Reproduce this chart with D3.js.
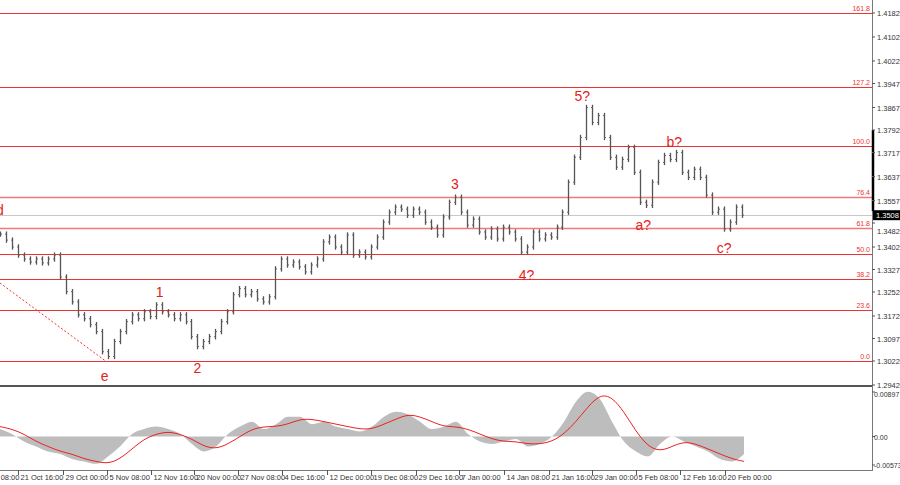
<!DOCTYPE html>
<html><head><meta charset="utf-8">
<script src="https://cdn.jsdelivr.net/npm/d3@7"></script>
<style>body{margin:0;background:#fff}svg{display:block;font-family:"Liberation Sans",Arial,sans-serif}</style>
</head><body><svg width="900" height="485"></svg>
<script>
var width = 900, height = 485;
var axisX = 872;

// closing prices, one bar every ~6px
var closes = [1.3445,1.3425,1.3402,1.3375,1.3362,1.3352,1.3362,1.3349,1.3362,1.3375,1.3302,1.3253,1.3219,1.3176,1.3163,1.3143,1.3120,1.3053,1.3037,1.3087,
  1.3120,1.3153,1.3176,1.3163,1.3186,1.3170,1.3209,1.3186,1.3176,1.3163,1.3176,1.3153,1.3103,1.3070,1.3087,1.3103,1.3120,1.3153,1.3186,1.3243,
  1.3263,1.3243,1.3253,1.3229,1.3219,1.3236,1.3329,1.3362,1.3342,1.3352,1.3336,1.3319,1.3342,1.3362,1.3419,1.3435,1.3402,1.3385,1.3442,1.3375,
  1.3385,1.3369,1.3402,1.3435,1.3485,1.3518,1.3535,1.3528,1.3508,1.3528,1.3518,1.3485,1.3468,1.3442,1.3502,1.3551,1.3568,1.3518,1.3475,1.3495,
  1.3452,1.3435,1.3462,1.3429,1.3468,1.3452,1.3429,1.3385,1.3402,1.3452,1.3429,1.3442,1.3435,1.3468,1.3518,1.3618,1.3701,1.3767,1.3867,1.3817,
  1.3840,1.3767,1.3701,1.3668,1.3694,1.3734,1.3651,1.3551,1.3541,1.3618,1.3684,1.3707,1.3694,1.3717,1.3651,1.3634,1.3661,1.3634,1.3575,1.3518,
  1.3528,1.3462,1.3485,1.3535,1.3508];

var priceTicks = [1.4182,1.4102,1.4022,1.3947,1.3867,1.3792,1.3717,1.3637,1.3557,1.3482,1.3402,1.3327,1.3252,1.3172,1.3097,1.3022,1.2942];
var fibLevels = ["161.8","127.2","100.0","76.4","61.8","50.0","38.2","23.6","0.0"];
var fibPrices = [1.4182,1.3934,1.3739,1.3570,1.3465,1.3380,1.3296,1.3191,1.3022];
var currentPrice = 1.3508;

var dateLabels = ["14 Oct 08:00","21 Oct 16:00","29 Oct 00:00","5 Nov 08:00","12 Nov 16:00","20 Nov 00:00","27 Nov 08:00","4 Dec 16:00","12 Dec 00:00",
  "19 Dec 08:00","29 Dec 16:00","7 Jan 00:00","14 Jan 08:00","21 Jan 16:00","29 Jan 00:00","5 Feb 08:00","12 Feb 16:00","20 Feb 00:00"];
var dateIdx = [-4.4,3,10.5,17.8,25.2,32.5,39.8,47.2,54.7,62,69.5,76.7,84.2,91.7,99,106.3,113.7,121.2];

var waveText = ["d","e","1","2","3","4?","5?","a?","b?","c?"];
var waveIdx = [0,17.5,26.7,33,76,88,97.3,107.5,112.7,121];
var wavePrice = [1.3509,1.2955,1.3235,1.2982,1.3595,1.3292,1.3889,1.3459,1.3735,1.3382];

var trendIdx = [0,17.5], trendPrice = [1.3282,1.3024];

// oscillator (x1000), one value every 12px
var hist = [1.5,0.5,-1,-2,-3,-3.5,-4.5,-5,-5.5,-4,-2,0.5,1.5,2,1.5,0.5,-1.5,-3,-2,0.5,2,3,1.5,2.5,4,4,2.5,3,2,1.5,1,2,4,5,4.5,3,1.5,2,3,0.5,
  -1,-1.5,-1,-0.5,-2,-1.5,0,3,7,9,7.5,3,-1,-3,-4,-1.5,0,-1,-2,-3,-4.5,-5,-3.5];
var signal = [2,1.5,0.5,-1,-2,-3,-3.5,-4.5,-5,-5.5,-4.5,-2.5,-0.5,0.5,1,0.5,-0.5,-2,-2.5,-1.5,0,1.5,2,2,2.5,3.5,3.5,3,2.5,2,1.5,1.5,2.5,3.5,4.5,4,3,2,2,1.5,
  0.5,-0.5,-1,-1,-1.5,-1.5,-1,0.5,3,6,8.5,8,5,1,-2,-3,-2,-1,-1.5,-2.5,-3.5,-4.5,-5];
var oscTicks = [0.00897,0,-0.00573];

var svg = d3.select("svg");
var x = d3.scaleLinear().domain([0, closes.length - 1]).range([0, 742]);
var y = d3.scaleLinear().domain([1.2942, 1.4182]).range([385, 13]);
var xo = d3.scaleLinear().domain([0, hist.length - 1]).range([0, 744]);
var yo = d3.scaleLinear().domain([-0.00573, 0.00897]).range([465, 392]);

// fib lines
fibPrices.forEach(function(p, i) {
  var soft = i == 3 || i == 4;
  svg.append("line").attr("x1", 0).attr("x2", axisX).attr("y1", Math.round(y(p)) + 0.5).attr("y2", Math.round(y(p)) + 0.5)
    .attr("stroke", soft ? "#f37a7a" : "#ee3333").attr("stroke-width", soft ? 1.5 : 1);
  svg.append("text").attr("x", axisX - 2).attr("y", y(p) - 2).attr("text-anchor", "end")
    .attr("font-size", 7).attr("fill", "#ee3333").text(fibLevels[i]);
});
svg.append("line").attr("x1", 0).attr("x2", axisX).attr("y1", Math.round(y(currentPrice)) + 0.5).attr("y2", Math.round(y(currentPrice)) + 0.5)
  .attr("stroke", "#c8c8c8");

svg.append("line").attr("x1", x(trendIdx[0])).attr("y1", y(trendPrice[0])).attr("x2", x(trendIdx[1])).attr("y2", y(trendPrice[1]))
  .attr("stroke", "#ee3333").attr("stroke-dasharray", "2,2");

// bars
closes.forEach(function(c, i) {
  var o = i ? closes[i - 1] : c;
  var hi = Math.max(o, c) + 0.0009, lo = Math.min(o, c) - 0.0009;
  var xx = Math.round(x(i)) + 0.5;
  svg.append("line").attr("x1", xx).attr("x2", xx).attr("y1", y(hi)).attr("y2", y(lo)).attr("stroke", "#555").attr("stroke-width", 1.3);
  svg.append("line").attr("x1", xx - 1.5).attr("x2", xx).attr("y1", y(o)).attr("y2", y(o)).attr("stroke", "#666");
  svg.append("line").attr("x1", xx).attr("x2", xx + 1.5).attr("y1", y(c)).attr("y2", y(c)).attr("stroke", "#666");
});

// wave labels
waveText.forEach(function(t, i) {
  svg.append("text").attr("x", x(waveIdx[i])).attr("y", y(wavePrice[i])).attr("text-anchor", "middle")
    .attr("font-size", 14).attr("fill", "#e8201a").text(t);
});

// oscillator
svg.append("path").datum(hist)
  .attr("d", d3.area().x(function(d, i) { return xo(i); }).y0(yo(0)).y1(function(d) { return yo(d / 1000); }).curve(d3.curveMonotoneX))
  .attr("fill", "#bdbdbd");
svg.append("path").datum(signal)
  .attr("d", d3.line().x(function(d, i) { return xo(i); }).y(function(d) { return yo(d / 1000); }).curve(d3.curveBasis))
  .attr("fill", "none").attr("stroke", "#ee2222").attr("stroke-width", 1);

// frames
svg.append("line").attr("x1", 0).attr("x2", axisX).attr("y1", 386).attr("y2", 386).attr("stroke", "#555").attr("stroke-width", 2);
svg.append("line").attr("x1", 0).attr("x2", axisX).attr("y1", 470.5).attr("y2", 470.5).attr("stroke", "#777");
svg.append("line").attr("x1", axisX + 0.5).attr("x2", axisX + 0.5).attr("y1", 0).attr("y2", 471).attr("stroke", "#777");
svg.append("line").attr("x1", axisX + 1).attr("x2", axisX + 1).attr("y1", y(1.3792)).attr("y2", y(currentPrice) - 4).attr("stroke", "#000").attr("stroke-width", 2.5);

// price axis
priceTicks.forEach(function(p) {
  var yy = y(p) + (p == 1.3482 ? 8 : 0);
  svg.append("line").attr("x1", axisX).attr("x2", axisX + 3).attr("y1", y(p)).attr("y2", y(p)).attr("stroke", "#555");
  svg.append("text").attr("x", axisX + 5).attr("y", yy + 3).attr("font-size", 7.5).attr("fill", "#333").text(p.toFixed(4));
});
svg.append("rect").attr("x", axisX + 1).attr("y", y(currentPrice) - 5).attr("width", 27).attr("height", 10).attr("fill", "#000");
svg.append("text").attr("x", axisX + 4).attr("y", y(currentPrice) + 3).attr("font-size", 7.5).attr("fill", "#fff").text(currentPrice.toFixed(4));

oscTicks.forEach(function(v) {
  svg.append("line").attr("x1", axisX).attr("x2", axisX + 3).attr("y1", yo(v)).attr("y2", yo(v)).attr("stroke", "#555");
  svg.append("text").attr("x", axisX + 2).attr("y", yo(v) + 3 + (v > 0.008 ? 2 : 0)).attr("font-size", 7).attr("fill", "#333")
    .text(v == 0 ? "0.00" : v.toFixed(5));
});

// date axis
dateIdx.forEach(function(d, i) {
  var xx = Math.round(x(d)) + 0.5;
  svg.append("line").attr("x1", xx).attr("x2", xx).attr("y1", 470).attr("y2", 475).attr("stroke", "#555");
  svg.append("text").attr("x", xx + 2).attr("y", 480).attr("font-size", 7.5).attr("fill", "#333").text(dateLabels[i]);
});
</script></body></html>
